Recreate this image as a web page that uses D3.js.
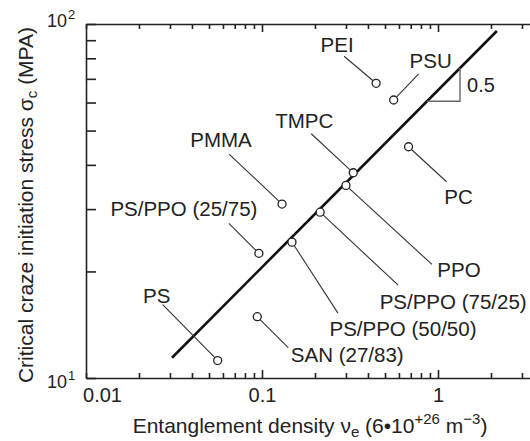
<!DOCTYPE html>
<html lang="en">

<head>
    <meta charset="UTF-8">
    <script src="https://cdn.jsdelivr.net/npm/d3@7"></script>
    <title>Craze stress vs entanglement density</title>
    <style>
        body {
            margin: 0;
            background: white;
        }

        text {
            font-family: 'Liberation Sans', Arial, sans-serif;
            fill: #222;
        }

        .axis path,
        .axis line {
            stroke: #222;
            stroke-width: 1.6px;
        }

        .leader {
            stroke: #333;
            stroke-width: 1.1px;
        }
    </style>
</head>

<body>
    <div id="chart"></div>

    <script>
        // Data
        const materials = ["PEI", "PSU", "PC", "TMPC", "PPO", "PS/PPO (75/25)", "PS/PPO (50/50)",
            "PMMA", "PS/PPO (25/75)", "SAN (27/83)", "PS"];
        const density = [0.445, 0.56, 0.68, 0.33, 0.30, 0.214, 0.148, 0.13, 0.096, 0.094, 0.056];
        const stress = [68, 61, 45, 38, 35, 29.4, 24.2, 31, 22.5, 14.9, 11.2];

        // fitted line sigma = coef * nu^0.5
        const fitCoef = 65;
        const fitExp = 0.5;
        const fitRange = [0.0308, 2.16];
        const slopeTriangle = [0.866, 1.334];
        const slopeLabel = "0.5";

        const xTickValues = [0.01, 0.02, 0.03, 0.04, 0.05, 0.06, 0.07, 0.08, 0.09,
            0.1, 0.2, 0.3, 0.4, 0.5, 0.6, 0.7, 0.8, 0.9, 1, 2, 3];
        const xTickLabels = { 0.01: "0.01", 0.1: "0.1", 1: "1" };
        const yTickValues = [10, 20, 30, 40, 50, 60, 70, 80, 90, 100];

        // label placement (pixel offsets from each point): leader end, label centre
        const leaderEnd = [[-32, -27], [25, -26], [38, 35], [-42, -39], [86, 79], [78, 73],
            [46, 71], [-53, -50], [-30, -30], [31, 31], [-55, -56]];
        const labelPos = [[-39, -39], [37, -39], [50, 50], [-49, -52], [113, 84], [133, 89],
            [111, 86], [-61, -64], [-75, -45], [90, 38], [-61, -65]];

        const width = 530;
        const height = 441;
        const plotL = 86, plotR = 530, plotT = 24, plotB = 378;

        const svg = d3.select("#chart").append("svg")
            .attr("width", width)
            .attr("height", height);

        const x = d3.scaleLog()
            .domain([0.01, Math.pow(10, (plotR - plotL) / 176 - 2)])
            .range([plotL, plotR]);
        const y = d3.scaleLog()
            .domain([10, 100])
            .range([plotB, plotT]);

        // bottom axis, ticks pointing in
        const xAxis = svg.append("g")
            .attr("class", "axis")
            .attr("transform", `translate(0,${plotB})`)
            .call(d3.axisBottom(x)
                .tickValues(xTickValues)
                .tickSizeInner(-5)
                .tickSizeOuter(0)
                .tickPadding(10)
                .tickFormat(d => xTickLabels[d] || ""));
        xAxis.selectAll(".tick line")
            .attr("y2", d => (d === 0.1 || d === 1) ? -8 : -5);
        xAxis.selectAll(".tick text")
            .style("font-size", "20px")
            .attr("dx", d => d === 0.01 ? 16 : 0);

        // top axis, no labels
        const topAxis = svg.append("g")
            .attr("class", "axis")
            .attr("transform", `translate(0,${plotT})`)
            .call(d3.axisTop(x)
                .tickValues(xTickValues)
                .tickSizeInner(-5)
                .tickSizeOuter(0)
                .tickFormat(""));
        topAxis.selectAll(".tick line")
            .attr("y2", d => (d === 0.1 || d === 1) ? 8 : 5);

        // left axis
        svg.append("g")
            .attr("class", "axis")
            .attr("transform", `translate(${plotL},0)`)
            .call(d3.axisLeft(y)
                .tickValues(yTickValues)
                .tickSizeInner(-10)
                .tickSizeOuter(0)
                .tickFormat(""));

        // decade labels 10^1 and 10^2
        const decades = [[10, "1", 10], [100, "2", 3]];
        decades.forEach(([v, sup, off]) => {
            const t = svg.append("text")
                .attr("x", 47)
                .attr("y", y(v) + off)
                .style("font-size", "18px");
            t.append("tspan").text("10");
            t.append("tspan")
                .attr("dy", -8)
                .attr("dx", 1)
                .style("font-size", "13px")
                .text(sup);
        });

        // fitted line
        const fitPts = fitRange.map(v => [x(v), y(fitCoef * Math.pow(v, fitExp))]);
        svg.append("line")
            .attr("x1", fitPts[0][0]).attr("y1", fitPts[0][1])
            .attr("x2", fitPts[1][0]).attr("y2", fitPts[1][1])
            .attr("stroke", "#111")
            .attr("stroke-width", 2.6);

        // slope triangle
        const ta = [x(slopeTriangle[0]), y(fitCoef * Math.pow(slopeTriangle[0], fitExp))];
        const tb = [x(slopeTriangle[1]), y(fitCoef * Math.pow(slopeTriangle[1], fitExp))];
        svg.append("path")
            .attr("d", `M${ta[0]},${ta[1]}H${tb[0]}V${tb[1]}`)
            .attr("fill", "none")
            .attr("stroke", "#666")
            .attr("stroke-width", 1.4);
        svg.append("text")
            .attr("x", tb[0] + 7)
            .attr("y", (ta[1] + tb[1]) / 2 + 7)
            .style("font-size", "20px")
            .text(slopeLabel);

        const r = 4;

        // leader lines and labels
        materials.forEach((m, i) => {
            const px = x(density[i]), py = y(stress[i]);
            const [ex, ey] = leaderEnd[i];
            const len = Math.hypot(ex, ey);
            svg.append("line")
                .attr("class", "leader")
                .attr("x1", px + ex / len * r)
                .attr("y1", py + ey / len * r)
                .attr("x2", px + ex)
                .attr("y2", py + ey);
            svg.append("text")
                .attr("x", px + labelPos[i][0])
                .attr("y", py + labelPos[i][1])
                .attr("dy", "0.36em")
                .attr("text-anchor", "middle")
                .style("font-size", "20.5px")
                .text(m);
        });

        // points
        svg.selectAll("circle.pt")
            .data(materials)
            .enter()
            .append("circle")
            .attr("class", "pt")
            .attr("cx", (d, i) => x(density[i]))
            .attr("cy", (d, i) => y(stress[i]))
            .attr("r", r)
            .attr("fill", "white")
            .attr("stroke", "#222")
            .attr("stroke-width", 1.3);

        // axis titles
        const xt = svg.append("text")
            .attr("x", 310)
            .attr("y", 433)
            .attr("text-anchor", "middle")
            .style("font-size", "21px");
        xt.append("tspan").text("Entanglement density \u03bd");
        xt.append("tspan").attr("dy", 4).style("font-size", "15px").text("e");
        xt.append("tspan").attr("dy", -4).text(" (6\u202210");
        xt.append("tspan").attr("dy", -9).style("font-size", "15px").text("+26");
        xt.append("tspan").attr("dy", 9).text(" m");
        xt.append("tspan").attr("dy", -9).style("font-size", "15px").text("\u22123");
        xt.append("tspan").attr("dy", 9).text(")");

        const yt = svg.append("text")
            .attr("transform", "translate(33,205) rotate(-90)")
            .attr("text-anchor", "middle")
            .style("font-size", "21px");
        yt.append("tspan").text("Critical craze initiation stress \u03c3");
        yt.append("tspan").attr("dy", 4).style("font-size", "15px").text("c");
        yt.append("tspan").attr("dy", -4).text(" (MPA)");
    </script>
</body>

</html>
